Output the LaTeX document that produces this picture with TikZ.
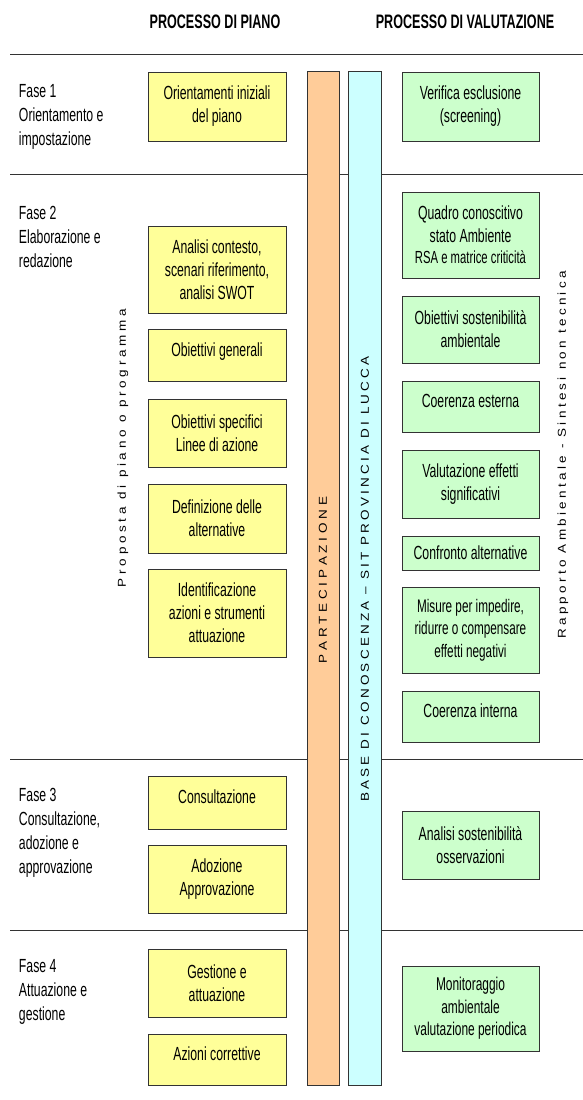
\documentclass[tikz,border=0pt]{standalone}
\usepackage{fontspec}
\usepackage{graphicx}
\setmainfont{Liberation Sans}
\newfontfamily\nf[FakeStretch=0.645]{Liberation Sans}
\definecolor{yfill}{HTML}{FFFF99}
\definecolor{gfill}{HTML}{CCFFCC}
\definecolor{ofill}{HTML}{FFCC99}
\definecolor{cfill}{HTML}{CCFFFF}
\definecolor{edge}{HTML}{333333}
\ExplSyntaxOn
\dim_new:N \l__sp_kern_dim
\box_new:N \l__sp_box
\seq_new:N \l__sp_seq
\int_new:N \l__sp_int
\cs_new_protected:Npn \__sp_word:n #1
  { \tl_map_inline:nn {#1} { ##1 \kern \l__sp_kern_dim } }
\NewDocumentCommand \spacedto { m m }
  {
    \hbox_set:Nn \l__sp_box {#2}
    \int_set:Nn \l__sp_int { \str_count:n {#2} - 1 }
    \dim_set:Nn \l__sp_kern_dim
      { ( \dim_eval:n {#1} - \box_wd:N \l__sp_box ) / \l__sp_int }
    \seq_set_split:Nnn \l__sp_seq { ~ } {#2}
    \hbox:n
      {
        \seq_map_inline:Nn \l__sp_seq { \__sp_word:n {##1} \c_space_tl }
        \unskip \unkern
      }
  }
\ExplSyntaxOff
\begin{document}
\begin{tikzpicture}[x=1pt,y=-1pt,
  every node/.style={inner sep=0pt,outer sep=0pt},
  boxbase/.style={draw=edge,line width=0.9pt,align=center,
    font=\nf\fontsize{19}{23}\selectfont},
  ybox/.style={boxbase,fill=yfill,minimum width=138pt},
  gbox/.style={boxbase,fill=gfill,minimum width=137pt},
  single/.style={text height=14pt,text depth=12pt},
  fase/.style={align=left,anchor=west,font=\nf\fontsize{19}{24}\selectfont},
  header/.style={font=\nf\bfseries\fontsize{19.5}{23}\selectfont},
  sepline/.style={draw=edge,line width=1pt},
  bar/.style={draw=edge,line width=0.9pt,minimum height=1014pt},
  vtext/.style={rotate=90,font=\fontsize{13.5}{16}\selectfont}
]
\useasboundingbox (0,0) rectangle (583,1100);

% headers
\node[header] (h1) at (215,22) {PROCESSO DI PIANO};
\node[header] (h2) at (465,22) {PROCESSO DI VALUTAZIONE};

% separator lines
\coordinate (l1a) at (10,54);   \coordinate (l1b) at (583,54);
\coordinate (l2a) at (10,174);  \coordinate (l2b) at (583,174);
\coordinate (l3a) at (10,759);  \coordinate (l3b) at (583,759);
\coordinate (l4a) at (10,930);  \coordinate (l4b) at (583,930);
\draw[sepline] (l1a) -- (l1b);
\draw[sepline] (l2a) -- (l2b);
\draw[sepline] (l3a) -- (l3b);
\draw[sepline] (l4a) -- (l4b);

% bars
\node[bar,fill=ofill,minimum width=32pt] (part) at (323,578) {};
\node[bar,fill=cfill,minimum width=33pt] (base) at (364.5,578) {};
\node[vtext] (parttxt) at (323,580)
  {\scalebox{1}[0.85]{\spacedto{164pt}{PARTECIPAZIONE}}};
\node[vtext] (basetxt) at (365,579)
  {\scalebox{1}[0.85]{\spacedto{468pt}{BASE DI CONOSCENZA – SIT PROVINCIA DI LUCCA}}};
\node[vtext] (proptxt) at (123,448)
  {\scalebox{1}[0.85]{\spacedto{293pt}{Proposta di piano o programma}}};
\node[vtext] (rapptxt) at (563,455)
  {\scalebox{1}[0.85]{\spacedto{384pt}{Rapporto Ambientale - Sintesi non tecnica}}};

% phases
\node[fase] (f1) at (19,116.5) {Fase 1\\Orientamento e\\impostazione};
\node[fase] (f2) at (19,237) {Fase 2\\Elaborazione e\\redazione};
\node[fase] (f3) at (19,832.5) {Fase 3\\Consultazione,\\adozione e\\approvazione};
\node[fase] (f4) at (19,992) {Fase 4\\Attuazione e\\gestione};

% plan process (yellow)
\node[ybox,minimum height=69pt] (y1) at (217,106.5) {Orientamenti iniziali\\del piano};
\node[ybox,minimum height=87pt] (y2) at (217,269.5) {Analisi contesto,\\scenari riferimento,\\analisi SWOT};
\node[ybox,single,minimum height=52pt] (y3) at (217,355) {Obiettivi generali};
\node[ybox,minimum height=68pt] (y4) at (217,433) {Obiettivi specifici\\Linee di azione};
\node[ybox,minimum height=69pt] (y5) at (217,518.5) {Definizione delle\\alternative};
\node[ybox,minimum height=88pt] (y6) at (217,613) {Identificazione\\azioni e strumenti\\attuazione};
\node[ybox,single,minimum height=53pt] (y7) at (217,802.5) {Consultazione};
\node[ybox,minimum height=68pt] (y8) at (217,879) {Adozione\\Approvazione};
\node[ybox,minimum height=68pt] (y9) at (217,983) {Gestione e\\attuazione};
\node[ybox,single,minimum height=51pt] (y10) at (217,1059.5) {Azioni correttive};

% evaluation process (green)
\node[gbox,minimum height=69pt] (g1) at (470.5,106.5) {Verifica esclusione\\(screening)};
\node[gbox,minimum height=86pt] (g2) at (470.5,235) {Quadro conoscitivo\\stato Ambiente\\[-2pt]{\fontsize{17.5}{21}\selectfont RSA e matrice criticità}};
\node[gbox,minimum height=67pt] (g3) at (470.5,329.5) {Obiettivi sostenibilità\\ambientale};
\node[gbox,single,minimum height=51pt] (g4) at (470.5,406.5) {Coerenza esterna};
\node[gbox,minimum height=68pt] (g5) at (470.5,484) {Valutazione effetti\\significativi};
\node[gbox,minimum height=34pt] (g6) at (470.5,553) {Confronto alternative};
\node[gbox,minimum height=86pt,font=\nf\fontsize{18.2}{22.5}\selectfont] (g7) at (470.5,630) {Misure per impedire,\\ridurre o compensare\\effetti negativi};
\node[gbox,single,minimum height=51pt] (g8) at (470.5,716.5) {Coerenza interna};
\node[gbox,minimum height=68pt] (g9) at (470.5,845) {Analisi sostenibilità\\osservazioni};
\node[gbox,minimum height=85pt,font=\nf\fontsize{18.5}{22.5}\selectfont] (g10) at (470.5,1008.5) {Monitoraggio\\ambientale\\valutazione periodica};
\end{tikzpicture}
\end{document}
